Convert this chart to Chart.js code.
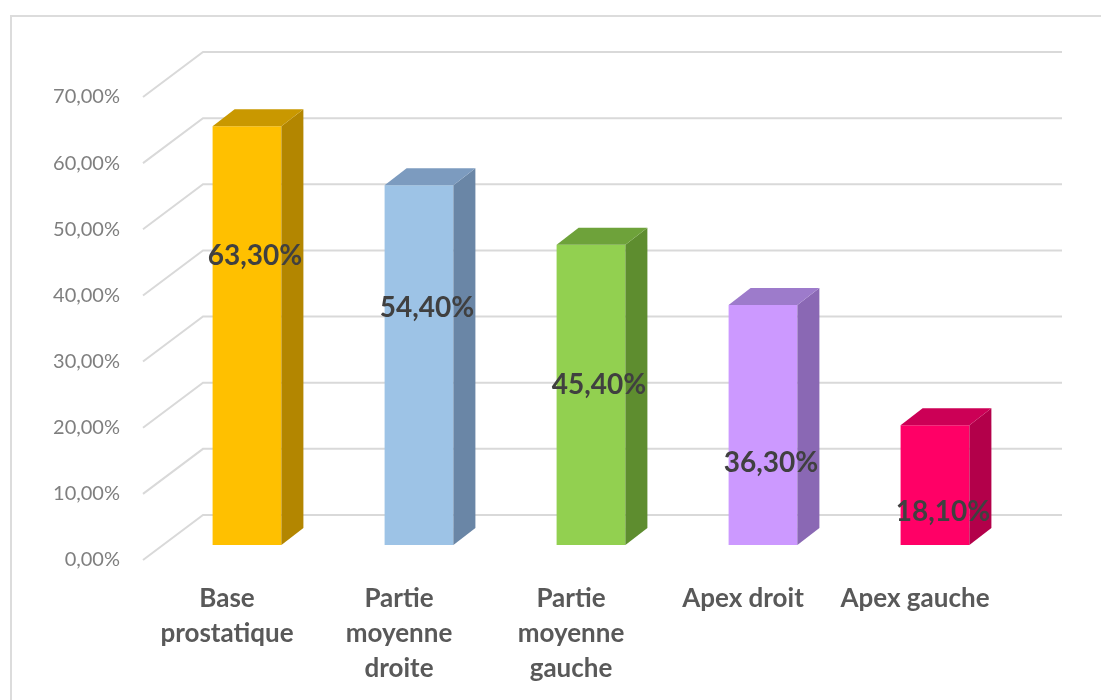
<!DOCTYPE html>
<html>
<head>
    <title>Localisation</title>
    <script src="https://cdn.jsdelivr.net/npm/chart.js"></script>
    <style>
        body { margin: 0; background: #fff; }
        .wrapper { position: relative; width: 1101px; height: 700px; }
        .frame { position: absolute; left: 10px; top: 15px; right: -5px; bottom: -5px;
                 border-left: 2px solid #dcdcdc; border-top: 2px solid #dcdcdc; pointer-events: none; }
    </style>
</head>
<body>
    <div class="wrapper">
        <canvas id="barChart" width="1101" height="700"></canvas>
        <div class="frame"></div>
    </div>

    <script>
        // donnees
        const zones = [
            ['Base', 'prostatique'],
            ['Partie', 'moyenne', 'droite'],
            ['Partie', 'moyenne', 'gauche'],
            'Apex droit',
            'Apex gauche'
        ];
        const pourcentages = [63.3, 54.4, 45.4, 36.3, 18.1];
        const couleurs = ['#FFC000', '#9DC3E6', '#92D050', '#CC99FF', '#FF0066'];
        const cotes = ['#B38600', '#6A86A6', '#5E8D2F', '#8A68B4', '#B3004A'];
        const dessus = ['#C99800', '#7C9BBF', '#6EA23A', '#9D7BCB', '#CC0056'];

        const fmt = v => v.toFixed(2).replace('.', ',') + '%';

        // faux 3D : grille en perspective, faces des barres
        const effet3d = {
            id: 'effet3d',
            beforeDatasetsDraw(chart, args, opts) {
                const { ctx, chartArea: a, scales: { y } } = chart;
                ctx.save();
                ctx.strokeStyle = '#d9d9d9';
                ctx.lineWidth = 2;
                y.ticks.forEach(t => {
                    const p = y.getPixelForValue(t.value);
                    ctx.beginPath();
                    ctx.moveTo(a.left - 18, p + 15);
                    ctx.lineTo(a.left + 42, p - 30);
                    ctx.lineTo(a.right + 41, p - 30);
                    ctx.stroke();
                });
                ctx.restore();
            },
            afterDatasetsDraw(chart, args, opts) {
                const { ctx, scales: { y } } = chart;
                const meta = chart.getDatasetMeta(0);
                const dx = opts.dx, dy = opts.dy;
                ctx.save();
                meta.data.forEach((bar, i) => {
                    const w = bar.width / 2;
                    const l = bar.x - w, r = bar.x + w, t = bar.y, b = bar.base;
                    // cote droit
                    ctx.fillStyle = cotes[i];
                    ctx.beginPath();
                    ctx.moveTo(r, t);
                    ctx.lineTo(r + dx, t + dy);
                    ctx.lineTo(r + dx, b + dy);
                    ctx.lineTo(r, b);
                    ctx.closePath();
                    ctx.fill();
                    // dessus
                    ctx.fillStyle = dessus[i];
                    ctx.beginPath();
                    ctx.moveTo(l, t);
                    ctx.lineTo(l + dx, t + dy);
                    ctx.lineTo(r + dx, t + dy);
                    ctx.lineTo(r, t);
                    ctx.closePath();
                    ctx.fill();
                });
                // etiquettes de valeurs
                ctx.font = 'bold 28px Lato';
                ctx.fillStyle = '#404040';
                ctx.textAlign = 'center';
                ctx.textBaseline = 'middle';
                meta.data.forEach((bar, i) => {
                    ctx.fillText(fmt(pourcentages[i]), bar.x + 8, y.getPixelForValue(opts.labelAt[i]));
                });
                ctx.restore();
            }
        };

        const ctx = document.getElementById('barChart').getContext('2d');
        const chart = new Chart(ctx, {
            type: 'bar',
            data: {
                labels: zones,
                datasets: [{
                    data: pourcentages,
                    backgroundColor: couleurs,
                    borderWidth: 0,
                    barPercentage: 1,
                    categoryPercentage: 0.4
                }]
            },
            options: {
                responsive: false,
                animation: false,
                layout: { padding: { top: 82, right: 80, left: 0, bottom: 0 } },
                plugins: {
                    legend: { display: false },
                    tooltip: { enabled: false },
                    effet3d: { dx: 22, dy: -17, labelAt: [43.7, 35.9, 24.2, 12.4, 5.0] }
                },
                scales: {
                    x: {
                        grid: { display: false },
                        border: { display: false },
                        ticks: {
                            color: '#595959',
                            font: { family: 'Lato', size: 26, weight: 'bold', lineHeight: 1.35 },
                            padding: 28,
                            labelOffset: -20,
                            maxRotation: 0,
                            autoSkip: false
                        },
                        afterFit: s => { s.height = 155; }
                    },
                    y: {
                        min: 0,
                        max: 70,
                        grid: { display: false, drawTicks: false },
                        border: { display: false },
                        ticks: {
                            stepSize: 10,
                            color: '#7f7f7f',
                            font: { family: 'Lato', size: 20 },
                            padding: 41,
                            labelOffset: 15,
                            callback: v => fmt(v)
                        },
                        afterFit: s => { s.width = 161; }
                    }
                }
            },
            plugins: [effet3d]
        });
    </script>
</body>
</html>
